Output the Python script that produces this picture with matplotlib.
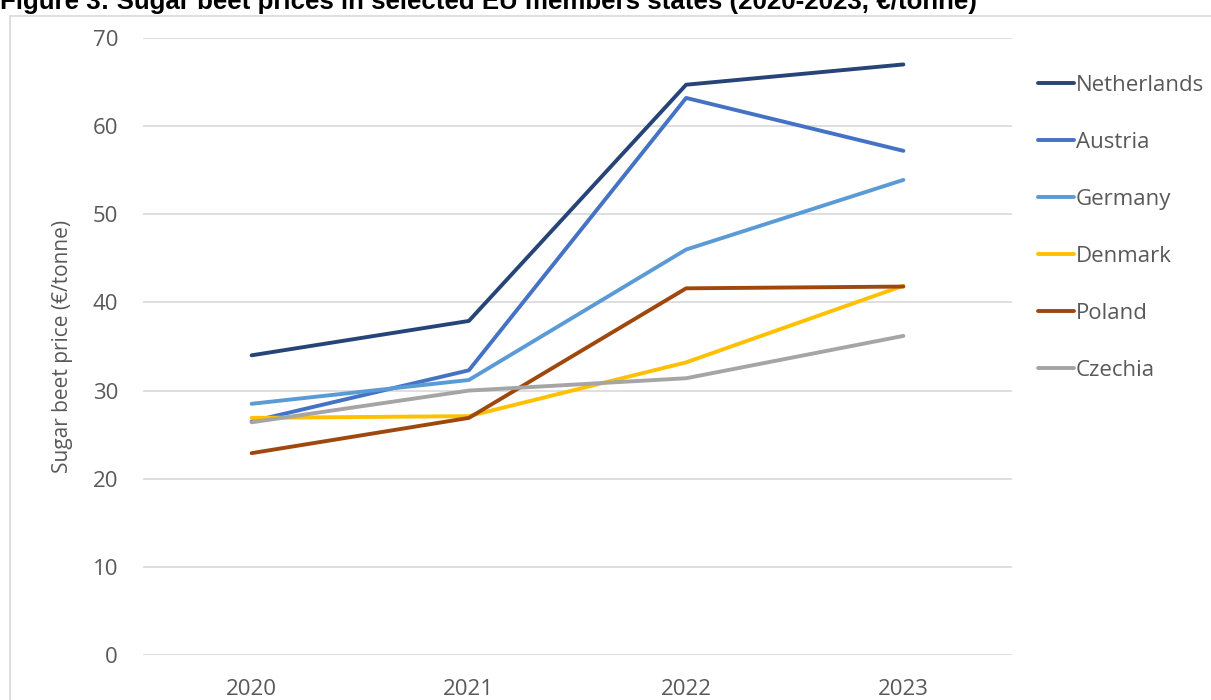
import matplotlib
matplotlib.use("Agg")
import matplotlib.pyplot as plt
from matplotlib.patches import Rectangle

years = ["2020", "2021", "2022", "2023"]
countries = ["Netherlands", "Austria", "Germany", "Denmark", "Poland", "Czechia"]
netherlands = [34.0, 37.9, 64.7, 67.0]
austria = [26.5, 32.3, 63.2, 57.2]
germany = [28.5, 31.2, 46.0, 53.9]
denmark = [26.9, 27.1, 33.2, 41.9]
poland = [22.9, 26.9, 41.6, 41.8]
czechia = [26.4, 30.0, 31.4, 36.2]
colors = ["#264478", "#4472C4", "#5B9BD5", "#FFC000", "#9E480E", "#A5A5A5"]

series = [netherlands, austria, germany, denmark, poland, czechia]

plt.rcParams['font.family'] = ['Open Sans', 'DejaVu Sans']

fig = plt.figure(figsize=(12.11, 7.0), dpi=100)
fig.patch.set_facecolor("white")

# chart area border
fig.patches.append(Rectangle((10.5 / 1211, -0.1), 1.2, 1 - 16.5 / 700 + 0.1,
                             transform=fig.transFigure, fill=False,
                             edgecolor="#D9D9D9", linewidth=1.2))

fig.text(0.0, 1 - 9 / 700, "Figure 3: Sugar beet prices in selected EU members states (2020-2023, €/tonne)",
         fontsize=18.6, fontweight="bold", family=["Liberation Sans", "DejaVu Sans"],
         ha="left", va="baseline", color="black")

ax = fig.add_axes([143 / 1211, 1 - 655 / 700, (1012 - 143) / 1211, (655 - 38) / 700])
x = list(range(len(years)))
for name, vals, c in zip(countries, series, colors):
    ax.plot(x, vals, color=c, linewidth=2.8, label=name, solid_capstyle="round")

ax.set_xlim(-0.5, 3.5)
ax.set_ylim(0, 70)
ax.set_yticks(range(0, 71, 10))
ax.set_xticks(x)
ax.set_xticklabels(years)
ax.grid(axis="y", color="#D9D9D9", linewidth=1.2)
ax.set_axisbelow(True)
for s in ax.spines.values():
    s.set_visible(False)
ax.tick_params(length=0, labelsize=16, labelcolor="#595959")
ax.tick_params(axis="y", pad=18)
ax.tick_params(axis="x", pad=17)
ax.set_ylabel("Sugar beet price (€/tonne)", fontsize=15, color="#595959", labelpad=14)

leg = ax.legend(loc="upper left", bbox_to_anchor=(1018 / 1211, 1 - 55 / 700),
                bbox_transform=fig.transFigure, frameon=False, fontsize=16,
                handlelength=1.6, handletextpad=0.1, labelspacing=1.62)
for t in leg.get_texts():
    t.set_color("#595959")

fig.savefig("out.png", dpi=100)
